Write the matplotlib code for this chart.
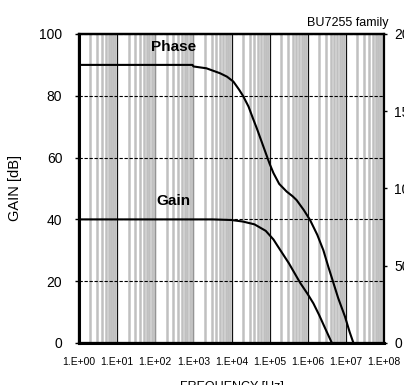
import matplotlib
matplotlib.use("Agg")
import matplotlib.pyplot as plt
from matplotlib.ticker import LogLocator, FixedLocator, FixedFormatter, NullFormatter

plt.rcParams['font.family'] = ['Liberation Sans', 'DejaVu Sans']

# Open-loop gain [dB] vs frequency [Hz]
gain_freq = [1.0, 1.0e3, 3.16e3, 1.0e4, 2.0e4, 4.0e4, 7.9e4, 1.26e5, 1.6e5,
             3.2e5, 6.3e5, 1.0e6, 1.41e6, 2.0e6, 2.8e6, 4.3e6]
gain_db = [40, 40, 40, 39.8, 39.3, 38.4, 36.3, 33.5, 31.5,
           25.8, 19.5, 15.8, 12.8, 9.0, 5.0, 0.0]

# Phase [deg] vs frequency [Hz]
phase_freq = [1.0, 9.5e2, 1.0e3, 2.2e3, 5.0e3, 7.6e3, 1.12e4, 1.58e4, 2.0e4,
              2.8e4, 3.7e4, 4.6e4, 6.9e4, 1.0e5, 1.26e5, 1.78e5, 2.8e5,
              4.0e5, 5.1e5, 7.9e5, 1.15e6, 1.78e6, 2.57e6, 3.5e6, 4.7e6,
              6.3e6, 9.5e6, 1.26e7, 1.58e7]
phase_deg = [180, 180, 179, 177.8, 174.6, 172.4, 169.2, 164, 160,
             153, 145, 139, 127, 116, 110, 103, 98,
             95, 92.5, 86, 79.6, 70, 60, 49, 39,
             29, 17, 7, 0]

decade_ticks = [1e0, 1e1, 1e2, 1e3, 1e4, 1e5, 1e6, 1e7, 1e8]
decade_labels = ["1.E+00", "1.E+01", "1.E+02", "1.E+03", "1.E+04",
                 "1.E+05", "1.E+06", "1.E+07", "1.E+08"]
gain_ticks = [0, 20, 40, 60, 80, 100]
phase_ticks = [0, 50, 100, 150, 200]

fig = plt.figure(figsize=(4.04, 3.85), dpi=100)
ax = fig.add_axes([79 / 404, 1 - 343 / 385, 305 / 404, 309 / 385])

ax.set_xscale("log")
ax.set_xlim(1e0, 1e8)
ax.set_ylim(0, 100)

ax.xaxis.set_major_locator(FixedLocator(decade_ticks))
ax.xaxis.set_major_formatter(FixedFormatter(decade_labels))
ax.xaxis.set_minor_locator(LogLocator(base=10, subs=range(2, 10), numticks=20))
ax.xaxis.set_minor_formatter(NullFormatter())
ax.set_yticks(gain_ticks)

# Grid: grey minor verticals, black decade lines, dashed horizontals
ax.grid(True, which="minor", axis="x", color="#c0c0c0", linewidth=1.8)
ax.grid(True, which="major", axis="x", color="#111111", linewidth=0.9)
ax.grid(True, which="major", axis="y", color="black", linewidth=0.8,
        linestyle=(0, (3, 1.5)))

ax.tick_params(axis="x", which="both", length=0, pad=10, labelsize=7.5)
ax.tick_params(axis="y", length=3, width=1, direction="out", pad=9, labelsize=10)

ax.plot(gain_freq, gain_db, color="black", linewidth=1.5, zorder=4)

ax2 = ax.twinx()
ax2.set_ylim(0, 200)
ax2.set_yticks(phase_ticks)
ax2.tick_params(axis="y", length=2.5, width=1, direction="out", pad=5, labelsize=10)
ax2.plot(phase_freq, phase_deg, color="black", linewidth=1.5, zorder=4)

for a in (ax, ax2):
    for side in ("left", "bottom", "top", "right"):
        a.spines[side].set_linewidth(1.6)
        a.spines[side].set_color("black")
ax.spines["left"].set_linewidth(2.2)
ax.spines["bottom"].set_linewidth(2.2)
ax2.spines["right"].set_linewidth(1.3)

ax.set_ylabel("GAIN [dB]", fontsize=10.5)
ax.yaxis.set_label_coords(-0.187, 0.5)
ax.set_xlabel("FREQUENCY [Hz]", fontsize=9, labelpad=10)

ax.text(0.311, 0.958, "Phase", transform=ax.transAxes, ha="center",
        va="center", fontsize=11, fontweight="bold")
ax.text(0.311, 0.46, "Gain", transform=ax.transAxes, ha="center",
        va="center", fontsize=11, fontweight="bold")
ax.text(1.015, 1.015, "BU7255 family", transform=ax.transAxes, ha="right",
        va="bottom", fontsize=9)

fig.savefig("out.png", dpi=100)
